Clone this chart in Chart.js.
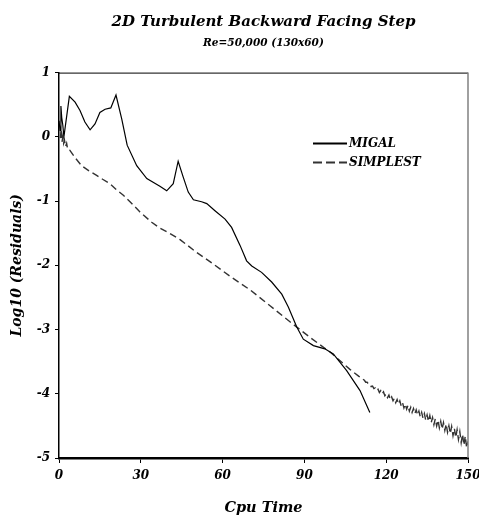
<!DOCTYPE html>
<html>
<head>
<meta charset="utf-8">
<script src="https://cdn.jsdelivr.net/npm/chart.js@4.4.0/dist/chart.umd.min.js"></script>
<style>
    html, body { margin: 0; padding: 0; background: #fff; }
    #wrap { width: 479px; height: 516px; }
</style>
</head>
<body>
<div id="wrap"><canvas id="residualChart"></canvas></div>
<script>
// --- Données : temps CPU et log10 des résidus ---
const migalTime = [0, 0.4, 0.7, 1.0, 1.4, 1.8, 3.8, 5.9, 7.7, 9.5, 11.4, 13.2, 15, 16.9, 19, 20.9,
    23, 25, 28.5, 32.2, 37, 39.5, 41.9, 43.7, 45.5, 47.4, 49.3, 52.3, 54.2, 57.2, 60.9, 63.3,
    66.4, 68.8, 70.7, 74.3, 78, 81.7, 84.1, 87.2, 89.6, 93.3, 97.5, 100.6, 105.5, 110.4, 114];
const migalRes = [0.25, 0.1, 0.48, 0.3, 0.18, 0.0, 0.63, 0.54, 0.41, 0.23, 0.11, 0.2, 0.38, 0.43, 0.45, 0.65,
    0.28, -0.13, -0.45, -0.65, -0.77, -0.84, -0.73, -0.38, -0.62, -0.86, -0.98, -1.01, -1.04, -1.15, -1.28, -1.41,
    -1.69, -1.93, -2.01, -2.11, -2.26, -2.45, -2.65, -2.96, -3.15, -3.25, -3.3, -3.38, -3.64, -3.95, -4.29];

const simplestTime = [0.5, 0.8, 1.1, 1.4, 1.7, 2.0, 2.4, 2.8, 3.2, 4, 6, 8.3, 11, 13.8, 16, 18.7, 21, 23.6,
    26.5, 29.7, 34, 37, 40.5, 44.4, 50.5, 56.6, 62.7, 70, 77.4, 84.7, 92, 99.4, 106.7, 110,
    112, 112.5, 113, 113.5, 114, 114.5, 115, 115.5, 116, 116.5, 117, 117.5, 118, 118.5, 119, 119.5,
    120, 120.5, 121, 121.5, 122, 122.5, 123, 123.5, 124, 124.5, 125, 125.5, 126, 126.5, 127, 127.5,
    128, 128.5, 129, 129.5, 130, 130.5, 131, 131.5, 132, 132.5, 133, 133.5, 134, 134.5, 135, 135.5,
    136, 136.5, 137, 137.5, 138, 138.5, 139, 139.5, 140, 140.5, 141, 141.5, 142, 142.5, 143, 143.5,
    144, 144.5, 145, 145.5, 146, 146.5, 147, 147.5, 148, 148.5, 149, 149.5, 150];
const simplestRes = [-0.02, 0.12, -0.08, 0.0, -0.1, -0.05, -0.15, -0.1, -0.2, -0.21, -0.33, -0.45, -0.53, -0.6,
    -0.66, -0.73, -0.82, -0.91, -1.03, -1.17, -1.33, -1.42, -1.5, -1.6, -1.8, -1.98, -2.17, -2.38, -2.63, -2.88,
    -3.12, -3.35, -3.62, -3.73,
    -3.79, -3.82, -3.82, -3.85, -3.85, -3.89, -3.88, -3.92, -3.91, -3.95, -3.93, -3.98, -3.95, -4.00, -3.97, -4.03,
    -4.00, -4.06, -4.02, -4.09, -4.05, -4.11, -4.07, -4.14, -4.09, -4.16, -4.11, -4.19, -4.14, -4.22, -4.16, -4.24,
    -4.18, -4.27, -4.21, -4.29, -4.23, -4.31, -4.25, -4.33, -4.27, -4.36, -4.29, -4.38, -4.31, -4.41, -4.33, -4.43,
    -4.34, -4.45, -4.37, -4.48, -4.39, -4.50, -4.41, -4.53, -4.43, -4.55, -4.45, -4.57, -4.47, -4.60, -4.50, -4.62,
    -4.51, -4.65, -4.54, -4.68, -4.56, -4.71, -4.59, -4.76, -4.63, -4.80, -4.66, -4.84, -4.74];

const xTicks = [0, 30, 60, 90, 120, 150];
const yTicks = [-5, -4, -3, -2, -1, 0, 1];

const serif = "'DejaVu Serif', 'Liberation Serif', serif";

function toPoints(xs, ys) {
    return xs.map((x, i) => ({ x: x, y: ys[i] }));
}

function serifFont(size) {
    return { family: serif, size: size, style: 'italic', weight: 'bold' };
}

// --- Cadre haut/droit et légende dessinés dans la zone du graphique ---
const framePlugin = {
    id: 'frame',
    afterDatasetsDraw(chart) {
        const { ctx, chartArea: a } = chart;
        ctx.save();
        ctx.strokeStyle = '#000';
        ctx.lineWidth = 1;
        ctx.beginPath();
        ctx.moveTo(a.left, a.top + 0.5);
        ctx.lineTo(a.right, a.top + 0.5);
        ctx.stroke();
        ctx.strokeStyle = '#808080';
        ctx.lineWidth = 1.5;
        ctx.beginPath();
        ctx.moveTo(a.right, a.top);
        ctx.lineTo(a.right, a.bottom);
        ctx.stroke();

        // légende
        const lx = a.left + 254, ly = a.top + 71;
        chart.data.datasets.forEach((ds, i) => {
            const y = ly + i * 19;
            ctx.strokeStyle = ds.borderColor;
            ctx.lineWidth = 2;
            ctx.setLineDash(ds.borderDash.length ? [9, 4] : []);
            ctx.beginPath();
            ctx.moveTo(lx, y);
            ctx.lineTo(lx + 34, y);
            ctx.stroke();
            ctx.setLineDash([]);
            ctx.fillStyle = '#000';
            ctx.font = "italic bold 12px " + serif;
            ctx.textBaseline = 'middle';
            ctx.fillText(ds.label, lx + 36, y);
        });
        ctx.restore();
    }
};

const ctx = document.getElementById('residualChart').getContext('2d');
new Chart(ctx, {
    type: 'scatter',
    data: {
        datasets: [{
            label: 'MIGAL',
            data: toPoints(migalTime, migalRes),
            showLine: true,
            borderColor: '#000',
            borderWidth: 1.2,
            borderDash: [],
            pointRadius: 0,
            tension: 0
        }, {
            label: 'SIMPLEST',
            data: toPoints(simplestTime, simplestRes),
            showLine: true,
            borderColor: '#333',
            borderWidth: 1.4,
            borderDash: [7, 4],
            pointRadius: 0,
            tension: 0
        }]
    },
    options: {
        responsive: true,
        maintainAspectRatio: false,
        animation: false,
        layout: { padding: { left: 0, right: 11, top: 0, bottom: 0 } },
        plugins: {
            legend: { display: false },
            tooltip: { enabled: false },
            title: {
                display: true,
                fullSize: false,
                text: '2D Turbulent Backward Facing Step',
                color: '#000',
                font: serifFont(15),
                padding: { top: 13, bottom: 2 }
            },
            subtitle: {
                display: true,
                fullSize: false,
                text: 'Re=50,000 (130x60)',
                color: '#000',
                font: serifFont(10.5),
                padding: { top: 4, bottom: 23 }
            }
        },
        scales: {
            x: {
                type: 'linear',
                min: 0,
                max: 150,
                afterFit: (scale) => {
                    scale.height = 58;
                    scale.paddingLeft = 0;
                    scale.paddingRight = 0;
                },
                afterBuildTicks: (scale) => { scale.ticks = xTicks.map(v => ({ value: v })); },
                grid: { drawOnChartArea: false, tickLength: 5, color: '#000', tickWidth: 1 },
                border: { display: true, color: '#000', width: 2.5 },
                ticks: {
                    color: '#000',
                    padding: 6,
                    maxRotation: 0,
                    font: serifFont(12)
                },
                title: {
                    display: true,
                    text: 'Cpu Time',
                    color: '#000',
                    font: { family: serif, size: 14.5, style: 'italic', weight: 'bold', lineHeight: 1 },
                    padding: { top: 0, bottom: 1 }
                }
            },
            y: {
                type: 'linear',
                min: -5,
                max: 1,
                afterFit: (scale) => { scale.width = 59; },
                afterBuildTicks: (scale) => { scale.ticks = yTicks.map(v => ({ value: v })); },
                grid: { drawOnChartArea: false, tickLength: 4, color: '#000', tickWidth: 1 },
                border: { display: true, color: '#000', width: 1.5 },
                ticks: {
                    color: '#000',
                    padding: 5,
                    font: serifFont(12)
                },
                title: {
                    display: true,
                    text: 'Log10 (Residuals)',
                    color: '#000',
                    font: { family: serif, size: 14, style: 'italic', weight: 'bold', lineHeight: 1 },
                    padding: { top: 10.5, bottom: 0 }
                }
            }
        }
    },
    plugins: [framePlugin]
});
</script>
</body>
</html>
